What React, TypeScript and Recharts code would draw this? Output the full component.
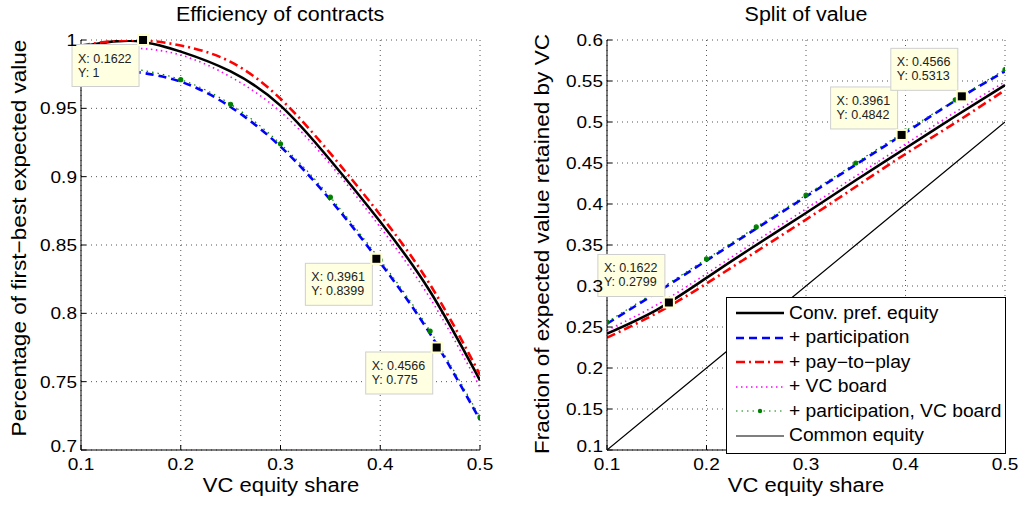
import React from 'react';
import { LineChart, Line, XAxis, YAxis, CartesianGrid, ReferenceDot } from 'recharts';

// VC equity share grid used for both panels
const shareX = [0.1, 0.15, 0.2, 0.25, 0.3, 0.35, 0.4, 0.45, 0.5];

// Left panel: efficiency of contracts
const effConv = [0.995, 0.9995, 0.9915, 0.977, 0.952, 0.912, 0.867, 0.816, 0.751];
const effPart = [0.98, 0.977, 0.9695, 0.951, 0.922, 0.883, 0.837, 0.785, 0.722];
const effPay = [0.996, 1.0, 0.996, 0.984, 0.957, 0.917, 0.872, 0.821, 0.755];
const effBoard = [0.992, 0.994, 0.989, 0.973, 0.9475, 0.909, 0.863, 0.811, 0.746];
const effPartBoard = [0.982, 0.979, 0.971, 0.953, 0.924, 0.885, 0.839, 0.787, 0.724];

// Right panel: split of value
const splitConv = [0.242, 0.271, 0.31, 0.35, 0.389, 0.429, 0.468, 0.507, 0.545];
const splitPart = [0.254, 0.292, 0.331, 0.37, 0.409, 0.448, 0.487, 0.526, 0.562];
const splitPay = [0.237, 0.267, 0.303, 0.342, 0.381, 0.421, 0.461, 0.499, 0.539];
const splitBoard = [0.246, 0.277, 0.315, 0.355, 0.394, 0.434, 0.473, 0.512, 0.549];
const splitPartBoard = [0.256, 0.294, 0.333, 0.372, 0.411, 0.45, 0.489, 0.527, 0.564];
const splitCommon = [0.1, 0.15, 0.2, 0.25, 0.3, 0.35, 0.4, 0.45, 0.5];

const xTicks = [0.1, 0.2, 0.3, 0.4, 0.5];
const effTicks = [0.7, 0.75, 0.8, 0.85, 0.9, 0.95, 1];
const splitTicks = [0.1, 0.15, 0.2, 0.25, 0.3, 0.35, 0.4, 0.45, 0.5, 0.55, 0.6];

// data tips shown on the figure
const effTips = [
  { x: 0.1622, y: 1 },
  { x: 0.3961, y: 0.8399 },
  { x: 0.4566, y: 0.775 },
];
const splitTips = [
  { x: 0.1622, y: 0.2799 },
  { x: 0.3961, y: 0.4842 },
  { x: 0.4566, y: 0.5313 },
];

const seriesNames = [
  'Conv. pref. equity',
  '+ participation',
  '+ pay\u2212to\u2212play',
  '+ VC board',
  '+ participation, VC board',
  'Common equity',
];

const FONT = '"Liberation Sans", Arial, Helvetica, sans-serif';
const STRETCH = 1.1; // the original text is rendered a bit wide

const lineStyles = [
  { stroke: '#000000', strokeWidth: 2.6 },
  { stroke: '#0000ff', strokeWidth: 2.6, strokeDasharray: '8 5' },
  { stroke: '#ff0000', strokeWidth: 2.6, strokeDasharray: '9 4 2 4' },
  { stroke: '#ff00ff', strokeWidth: 1.6, strokeDasharray: '1.5 3.5' },
  { stroke: '#008000', strokeWidth: 1.2, strokeDasharray: '1.5 4' },
  { stroke: '#000000', strokeWidth: 1.2 },
];

const effData = shareX.map((x, i) => ({
  x,
  s0: effConv[i],
  s1: effPart[i],
  s2: effPay[i],
  s3: effBoard[i],
  s4: effPartBoard[i],
}));

const splitData = shareX.map((x, i) => ({
  x,
  s0: splitConv[i],
  s1: splitPart[i],
  s2: splitPay[i],
  s3: splitBoard[i],
  s4: splitPartBoard[i],
  s5: splitCommon[i],
}));

const DataTip = ({ cx, cy, tx, ty, above }: any) => {
  if (cx == null || cy == null) return null;
  const w = 67;
  const h = 42;
  const bx = cx - 71;
  const by = above ? cy - 48 : cy + 4.5;
  return (
    <g>
      <rect x={bx} y={by} width={w} height={h} fill="#ffffe1" stroke="#cfcfcf" strokeWidth={1} />
      <text x={bx + 6} y={by + 18} fontSize={12.5} fontFamily={FONT} fill="#222">{`X: ${tx}`}</text>
      <text x={bx + 6} y={by + 32} fontSize={12.5} fontFamily={FONT} fill="#222">{`Y: ${ty}`}</text>
      <rect x={cx - 5} y={cy - 5} width={10} height={10} fill="#000" stroke="#ffffcc" strokeWidth={2} />
    </g>
  );
};

const XTick = ({ x, y, payload }: any) => (
  <text
    transform={`translate(${x},${y + 1}) scale(1.12,1)`}
    textAnchor="middle"
    dy="0.71em"
    fontSize={17}
    fontFamily={FONT}
    fill="#000"
  >
    {String(payload.value)}
  </text>
);

// the lowest y label sits just above the x labels, as in the original
const YTick = ({ x, y, payload, index }: any) => (
  <text
    transform={`translate(${x},${index === 0 ? y - 4 : y}) scale(1.12,1)`}
    textAnchor="end"
    dy="0.355em"
    fontSize={17}
    fontFamily={FONT}
    fill="#000"
  >
    {String(payload.value)}
  </text>
);

const blank = () => '';

interface PanelProps {
  data: any[];
  yTicks: number[];
  yDomain: [number, number];
  tips: { x: number; y: number }[];
  tipsAbove: boolean;
  count: number;
  width: number;
  marginLeft: number;
  marginRight: number;
}

const Panel: React.FC<PanelProps> = ({ data, yTicks, yDomain, tips, tipsAbove, count, width, marginLeft, marginRight }) => (
  <LineChart width={width} height={506} data={data} margin={{ top: 40, right: marginRight, left: marginLeft, bottom: 26 }}>
    <CartesianGrid stroke="#555" strokeDasharray="1 4" strokeWidth={1} />
    <XAxis
      dataKey="x"
      type="number"
      domain={[0.1, 0.5]}
      ticks={xTicks}
      allowDataOverflow
      height={30}
      tick={<XTick />}
      tickSize={-5}
      tickMargin={12}
      stroke="#000"
    />
    <XAxis xAxisId="top" orientation="top" type="number" domain={[0.1, 0.5]} ticks={xTicks} allowDataOverflow height={0} tickSize={-5} tickFormatter={blank} stroke="#000" />
    <YAxis
      type="number"
      domain={yDomain}
      ticks={yTicks}
      allowDataOverflow
      width={50}
      tick={<YTick />}
      tickSize={-5}
      tickMargin={9}
      stroke="#000"
      interval={0}
    />
    <YAxis yAxisId="right" orientation="right" type="number" domain={yDomain} ticks={yTicks} allowDataOverflow width={0} tickSize={-5} tickFormatter={blank} stroke="#000" interval={0} />
    {lineStyles.slice(0, count).map((st, i) => (
      <Line
        key={i}
        dataKey={`s${i}`}
        type={i === 5 ? 'linear' : 'natural'}
        stroke={st.stroke}
        strokeWidth={st.strokeWidth}
        strokeDasharray={st.strokeDasharray}
        dot={i === 4 ? { r: 2, fill: '#008000', stroke: '#008000', strokeDasharray: '' } : false}
        activeDot={false}
        isAnimationActive={false}
      />
    ))}
    {tips.map((t, i) => (
      <ReferenceDot
        key={i}
        x={t.x}
        y={t.y}
        ifOverflow="visible"
        shape={(p: any) => <DataTip cx={p.cx} cy={p.cy} tx={t.x} ty={t.y} above={tipsAbove} />}
      />
    ))}
  </LineChart>
);

const LegendSample = ({ i }: { i: number }) => {
  const st = lineStyles[i];
  return (
    <svg width={48} height={10} style={{ display: 'block' }}>
      <line x1={0} y1={5} x2={48} y2={5} stroke={st.stroke} strokeWidth={st.strokeWidth} strokeDasharray={st.strokeDasharray} />
      {i === 4 && <circle cx={24} cy={5} r={2.2} fill="#008000" />}
    </svg>
  );
};

const txt: React.CSSProperties = { position: 'absolute', fontFamily: FONT, color: '#000', whiteSpace: 'nowrap', lineHeight: 1.15 };

export default function App() {
  return (
    <div style={{ position: 'absolute', left: 0, top: 0, width: 1021, height: 506, background: '#fff', overflow: 'hidden' }}>
      <div style={{ position: 'absolute', left: 0, top: 0 }}>
        <Panel data={effData} yTicks={effTicks} yDomain={[0.7, 1]} tips={effTips} tipsAbove={false} count={5} width={510} marginLeft={31} marginRight={30} />
      </div>
      <div style={{ position: 'absolute', left: 520, top: 0 }}>
        <Panel data={splitData} yTicks={splitTicks} yDomain={[0.1, 0.6]} tips={splitTips} tipsAbove={true} count={6} width={501} marginLeft={37} marginRight={16} />
      </div>

      <div style={{ ...txt, left: 280, top: 3, fontSize: 19.5, transform: `translateX(-50%) scaleX(${STRETCH})` }}>Efficiency of contracts</div>
      <div style={{ ...txt, left: 806, top: 3, fontSize: 19.5, transform: `translateX(-50%) scaleX(${STRETCH})` }}>Split of value</div>
      <div style={{ ...txt, left: 281, top: 474, fontSize: 20, transform: `translateX(-50%) scaleX(${STRETCH})` }}>VC equity share</div>
      <div style={{ ...txt, left: 806, top: 474, fontSize: 20, transform: `translateX(-50%) scaleX(${STRETCH})` }}>VC equity share</div>
      <div style={{ ...txt, left: 19, top: 238, fontSize: 20.5, transform: `translate(-50%, -50%) rotate(-90deg) scaleX(${STRETCH})` }}>
        Percentage of first{'\u2212'}best expected value
      </div>
      <div style={{ ...txt, left: 542, top: 244, fontSize: 20.5, transform: `translate(-50%, -50%) rotate(-90deg) scaleX(${STRETCH})` }}>
        Fraction of expected value retained by VC
      </div>

      <div style={{ position: 'absolute', left: 726, top: 297, width: 278, height: 152, border: '1px solid #000', background: '#fff', paddingTop: 3 }}>
        {seriesNames.map((name, i) => (
          <div key={i} style={{ display: 'flex', alignItems: 'center', height: 24.5 }}>
            <div style={{ width: 9 }} />
            <LegendSample i={i} />
            <div style={{ width: 5 }} />
            <span
              style={{
                display: 'inline-block',
                fontFamily: FONT,
                fontSize: 17.5,
                color: '#000',
                whiteSpace: 'nowrap',
                transform: `scaleX(${STRETCH})`,
                transformOrigin: 'left center',
              }}
            >
              {name}
            </span>
          </div>
        ))}
      </div>
    </div>
  );
}
